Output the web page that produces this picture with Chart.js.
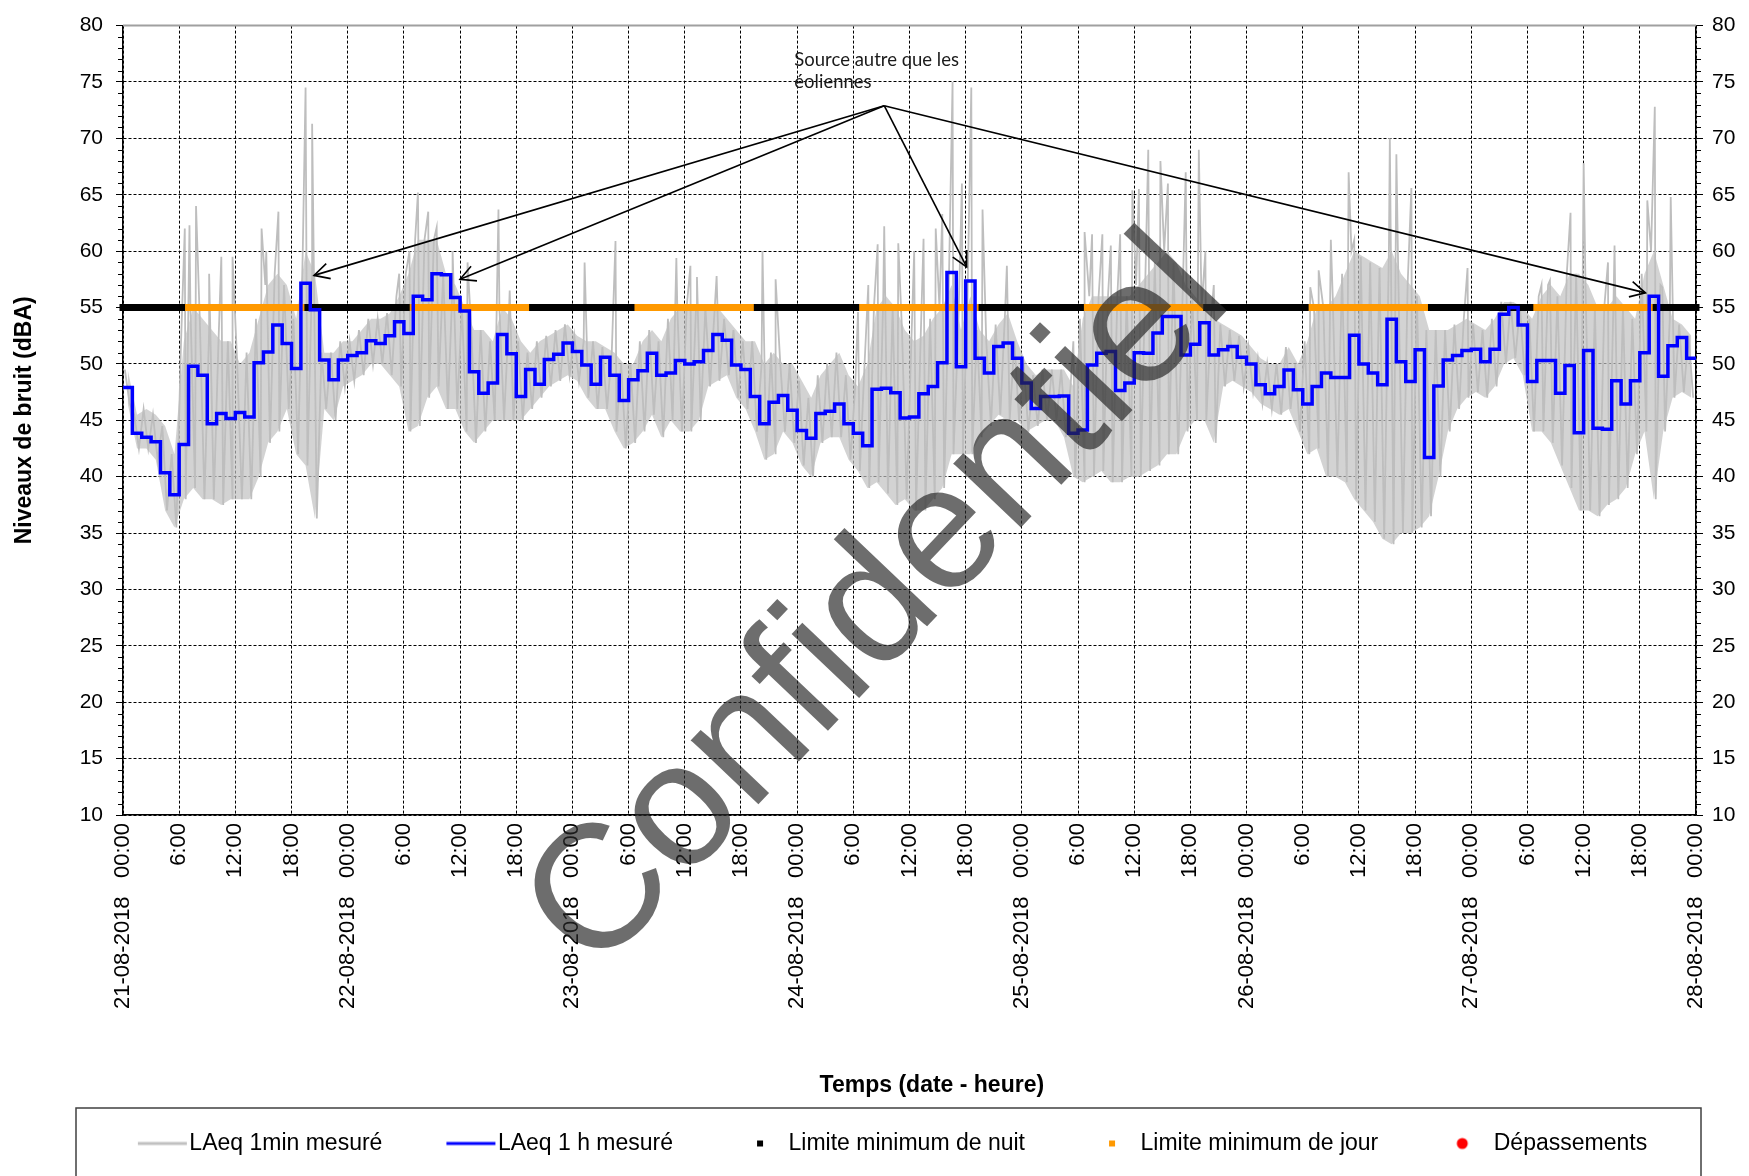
<!DOCTYPE html>
<html lang="fr">
<head>
<meta charset="UTF-8" />
<title>Niveaux de bruit</title>
<style>
  html, body { margin: 0; padding: 0; background: #fff; }
  #graphique { display: block; }
</style>
</head>
<body>
<canvas id="graphique" width="1749" height="1176"></canvas>
<script src="https://cdn.jsdelivr.net/npm/chart.js"></script>
<script>
// jours (un tick 00:00 par jour)
const jours = ['21-08-2018', '22-08-2018', '23-08-2018', '24-08-2018',
               '25-08-2018', '26-08-2018', '27-08-2018', '28-08-2018'];

// LAeq 1 h mesuré, une valeur par heure (h0 = 21-08 00:00)
const laeqHoraire = [
  47.9, 43.85, 43.5, 43.1, 40.35, 38.4, 42.85, 49.8, 49.0, 44.7, 45.6, 45.15, 45.7, 45.3, 50.1, 51.05, 53.45, 51.8, 49.6, 57.15, 54.8, 50.35, 48.6, 50.35,
  50.75, 51.0, 52.05, 51.8, 52.5, 53.75, 52.7, 56.0, 55.7, 58.0, 57.9, 55.9, 54.7, 49.3, 47.4, 48.3, 52.6, 50.9, 47.1, 49.5, 48.2, 50.4, 50.85, 51.85,
  51.1, 49.9, 48.2, 50.6, 49.0, 46.75, 48.6, 49.4, 50.95, 49.0, 49.2, 50.3, 50.0, 50.2, 51.2, 52.6, 52.1, 49.9, 49.5, 47.1, 44.7, 46.6, 47.2, 45.9,
  44.1, 43.4, 45.6, 45.8, 46.45, 44.7, 43.85, 42.75, 47.75, 47.85, 47.45, 45.2, 45.3, 47.35, 48.0, 50.1, 58.1, 49.75, 57.35, 50.5, 49.2, 51.55, 51.85, 50.5,
  48.3, 46.05, 47.1, 47.1, 47.15, 43.85, 44.15, 49.9, 50.95, 51.1, 47.65, 48.3, 51.0, 50.95, 52.75, 54.2, 54.2, 50.8, 51.75, 53.65, 50.8, 51.25, 51.55, 50.6,
  50.0, 48.15, 47.35, 48.0, 49.45, 47.7, 46.45, 48.0, 49.2, 48.8, 48.8, 52.55, 50.0, 49.2, 48.15, 53.95, 50.2, 48.45, 51.25, 41.7, 48.05, 50.35, 50.75, 51.2,
  51.3, 50.2, 51.3, 54.4, 55.0, 53.45, 48.45, 50.3, 50.3, 47.4, 49.85, 43.9, 51.2, 44.3, 44.2, 48.5, 46.45, 48.5, 51.0, 56.0, 48.9, 51.6, 52.35, 50.5
];

// LAeq 1min : enveloppe haute et basse lue heure par heure
const grisMax = [
  49.5, 45.5, 46, 45.5, 44.5, 42, 52, 55, 54, 53, 52, 52, 50, 51, 54, 57, 58, 57, 54, 60, 58, 51, 51, 52,
  52, 53, 54, 54, 54.5, 56, 58, 61, 61, 61, 58, 57, 55, 53, 53, 52, 55, 54, 52, 51, 52, 52.5, 53, 53.5,
  52.5, 52, 52, 51.5, 51, 50, 50, 52, 53, 52, 54, 55, 55, 55, 55, 55, 54, 53, 52, 52, 50, 51, 50, 50,
  48.5, 47, 49, 50, 51, 49, 48, 50, 55, 56, 55, 53, 52, 52.5, 54, 55, 57, 53, 56, 53, 52, 53.5, 54.5, 52,
  50, 49, 49.5, 49.5, 49.5, 48, 54, 56, 56, 56, 56, 56, 57, 58, 59, 60, 59, 57, 56, 55, 54, 53.5, 53, 52.5,
  51.5, 50.5, 50, 50, 51.5, 50, 52, 55, 55, 56, 58, 60, 59.5, 59, 58.5, 60, 58, 57, 56, 53, 53, 53, 53.5, 54,
  53.5, 53, 54, 55.5, 55.5, 55, 54, 56, 57, 56, 58, 58, 57, 55, 55, 56, 55, 54, 58, 60, 57, 54, 53.5, 52.5
];
const grisMin = [
  46.5, 42.5, 42.5, 41.5, 37, 35.5, 38, 39, 38, 38, 37.5, 38, 38, 38, 40, 43, 44, 46, 42, 41, 36.3, 46, 45, 48,
  48.5, 49, 50, 50, 49, 48, 44, 44.5, 47, 48, 46, 46, 44, 43, 44, 45, 45, 45, 45, 46, 47, 48, 48.5, 49,
  48.5, 47, 46, 46, 44, 42.5, 43, 44, 45.5, 43.5, 45, 44, 44, 45, 48, 48.5, 49, 47, 46, 44, 41.5, 42, 44, 43,
  41, 40, 43, 43.5, 43.5, 41.5, 40.5, 39, 39.5, 38.5, 37.5, 38, 37, 37, 38, 39, 42, 42, 42, 43.5, 44.5, 45.5, 45, 45,
  44, 44.5, 45, 45, 43.5, 40, 39.5, 40, 40.5, 39.5, 39.5, 40, 40, 40.5, 41, 42, 42, 44, 45, 45, 43, 48, 48.5, 48,
  47.5, 46.5, 46, 45.5, 46, 44, 42, 42.5, 40, 40, 39.5, 38, 37, 36, 34.5, 34, 35, 35, 35.5, 36.5, 40, 44, 46, 47,
  47.5, 47, 48, 50, 50.5, 49, 44, 44, 43, 41, 39, 37, 37, 36.5, 37.5, 38, 39, 42, 44, 38, 44, 47, 47.5, 47
];
// pics isolés du LAeq 1min : [heure, dBA]
const pics = [
  [6.6, 62], [7.1, 62.3], [7.8, 64], [9.2, 58], [10.5, 59.5], [11.7, 59.5], [14.8, 62], [15.3, 60], [16.6, 63.5],
  [19.5, 74.5], [20.2, 71.3], [29.5, 58], [30.6, 60], [31.5, 65.2], [32.6, 63.5], [33.5, 62.1], [35.2, 60], [36.8, 59],
  [40.1, 63.7], [41.3, 56.5], [49.3, 59], [52.6, 60.9], [59.1, 59.4], [60.6, 58.7], [61.3, 57.7], [63.4, 57.8],
  [68.3, 60], [69.7, 57.5], [78.5, 54.6], [79.6, 57], [80.6, 60.6], [81.3, 62.2], [82.8, 60.7], [84.5, 60],
  [85.5, 61.1], [86.8, 62], [87.5, 63.3], [88.6, 75], [89.6, 66], [90.6, 74.5], [91.8, 63.7], [94.4, 58.7],
  [101.5, 52], [102.7, 61.7], [103.5, 61.5], [104.6, 61.5], [105.5, 60.5], [106.5, 61.5], [107.8, 65.4], [108.5, 65.5],
  [109.5, 69], [110.8, 68], [111.6, 66], [113.5, 67], [114.9, 69], [115.6, 60], [116.5, 57], [126.8, 56.8],
  [127.7, 58.3], [129.0, 61], [130.9, 67], [131.5, 61], [135.3, 70], [136.0, 68.6], [137.6, 65.6], [143.6, 58.5],
  [151.5, 57], [152.4, 57.4], [154.6, 63.4], [156.0, 67.8], [158.6, 59], [159.3, 60.5], [162.8, 64.5], [163.6, 72.8],
  [164.4, 56.8], [165.3, 64.8]
];

// limites (dBA) et plages jour / nuit (heures)
const limiteNuit = 55;
const limiteJour = 55;
const debutJour = 7;
const finJour = 19;

// annotation
const sourceTexte = ['Source autre que les', 'éoliennes'];
const sourcePos = [71.7, 77.8];
const flecheOrigine = [81.3, 72.9];
const flecheCibles = [[20.4, 57.85], [36.0, 57.5], [90.1, 58.6], [162.6, 56.3]];

Chart.defaults.font.family = "'Liberation Sans', Arial, sans-serif";
Chart.defaults.color = '#000';

// --- séries pour Chart.js ---
const gris = [];
for (let h = 0; h < laeqHoraire.length; h++) {
  const pts = [{ x: h + 0.2, y: grisMax[h] }, { x: h + 0.7, y: grisMin[h] }];
  pics.filter(p => Math.floor(p[0]) === h).forEach(p => pts.push({ x: p[0], y: p[1] }));
  pts.sort((a, b) => a.x - b.x);
  gris.push(...pts);
}
const bandeHaut = grisMax.map((v, h) => ({ x: h + 0.5, y: v }));
const bandeBas = grisMin.map((v, h) => ({ x: h + 0.5, y: v }));

const bleu = laeqHoraire.map((v, h) => ({ x: h, y: v }));
bleu.push({ x: laeqHoraire.length, y: laeqHoraire[laeqHoraire.length - 1] });

const nuit = [], jour = [];
const finH = laeqHoraire.length;
let t = 0;
while (t < finH) {
  const hDay = t % 24;
  let next;
  if (hDay < debutJour) next = t - hDay + debutJour;
  else if (hDay < finJour) next = t - hDay + finJour;
  else next = t - hDay + 24 + debutJour;
  next = Math.min(next, finH);
  const estJour = hDay >= debutJour && hDay < finJour;
  const cible = estJour ? jour : nuit;
  const val = estJour ? limiteJour : limiteNuit;
  cible.push({ x: t, y: val }, { x: next, y: val }, { x: next, y: null });
  t = next;
}

function symbole(type, couleur) {
  const c = document.createElement('canvas');
  c.width = 130; c.height = 22;
  const g = c.getContext('2d');
  if (type === 'ligne') {
    g.strokeStyle = couleur; g.lineWidth = 3;
    g.beginPath(); g.moveTo(73, 11); g.lineTo(122, 11); g.stroke();
  } else if (type === 'carre') {
    g.fillStyle = couleur; g.fillRect(93, 8, 6, 6);
  } else {
    g.fillStyle = couleur; g.beginPath(); g.arc(93, 11, 5.5, 0, Math.PI * 2); g.fill();
  }
  return c;
}
const symboles = [
  symbole('ligne', '#C0C0C0'), symbole('ligne', '#0000FF'),
  symbole('carre', '#000000'), symbole('carre', '#FF9900'), symbole('rond', '#FF0000')
];

const decor = {
  id: 'decor',
  afterDraw(chart) {
    const { ctx, chartArea: a, scales } = chart;
    const x = scales.x, y = scales.y;
    ctx.save();
    // bord supérieur gris
    ctx.strokeStyle = '#a0a0a0'; ctx.lineWidth = 2;
    ctx.beginPath(); ctx.moveTo(a.left, a.top); ctx.lineTo(a.right, a.top); ctx.stroke();
    // petites graduations
    ctx.strokeStyle = '#000'; ctx.lineWidth = 1;
    for (let v = 10; v <= 80; v++) {
      if (v % 5 === 0) continue;
      const py = Math.round(y.getPixelForValue(v)) + 0.5;
      ctx.beginPath();
      ctx.moveTo(a.left - 5, py); ctx.lineTo(a.left, py);
      ctx.moveTo(a.right, py); ctx.lineTo(a.right + 5, py);
      ctx.stroke();
    }
    // cadre de la légende
    const lg = chart.legend;
    ctx.strokeStyle = '#404040'; ctx.lineWidth = 1.5;
    ctx.strokeRect(a.left - 47, lg.top - 16, a.right - a.left + 52, 120);

    // annotation
    ctx.fillStyle = '#1a1a1a';
    ctx.font = "18.5px Lato, 'Liberation Sans', sans-serif";
    ctx.textBaseline = 'top';
    const tx = x.getPixelForValue(sourcePos[0]), ty = y.getPixelForValue(sourcePos[1]);
    sourceTexte.forEach((l, i) => ctx.fillText(l, tx, ty + i * 22));
    const ox = x.getPixelForValue(flecheOrigine[0]), oy = y.getPixelForValue(flecheOrigine[1]);
    ctx.strokeStyle = '#000'; ctx.lineWidth = 1.6;
    flecheCibles.forEach(([h, v]) => {
      const cx = x.getPixelForValue(h), cy = y.getPixelForValue(v);
      ctx.beginPath(); ctx.moveTo(ox, oy); ctx.lineTo(cx, cy); ctx.stroke();
      const ang = Math.atan2(oy - cy, ox - cx);
      ctx.beginPath();
      ctx.moveTo(cx + 17 * Math.cos(ang + 0.48), cy + 17 * Math.sin(ang + 0.48));
      ctx.lineTo(cx, cy);
      ctx.lineTo(cx + 17 * Math.cos(ang - 0.48), cy + 17 * Math.sin(ang - 0.48));
      ctx.stroke();
    });

    // filigrane
    ctx.translate(chart.width * 0.503, chart.height * 0.515);
    ctx.rotate(-46.5 * Math.PI / 180);
    ctx.font = "176px 'Liberation Sans', Arial, sans-serif";
    ctx.fillStyle = 'rgba(40,40,40,0.68)';
    ctx.textAlign = 'center'; ctx.textBaseline = 'middle';
    ctx.fillText('Confidentiel', 0, 0);
    ctx.restore();
  }
};

const axeY = (position) => ({
  type: 'linear', position, min: 10, max: 80,
  ticks: { stepSize: 5, font: { size: 21 }, padding: position === 'left' ? 13 : 9, color: '#000' },
  grid: {
    drawOnChartArea: position === 'left',
    color: c => (c.tick && c.tick.value === 80) ? '#a0a0a0' : '#000',
    lineWidth: 1, drawTicks: true, tickLength: 7, tickColor: '#000', tickWidth: 1
  },
  border: { display: true, color: '#000', width: 1.5, dash: [3, 2] },
  title: position === 'left'
    ? { display: true, text: 'Niveaux de bruit (dBA)', font: { size: 23, weight: 'bold' }, padding: { top: 31, bottom: 3 }, color: '#000' }
    : { display: false },
  afterFit: s => { s.width = position === 'left' ? 143 : 53; }
});

new Chart(document.getElementById('graphique'), {
  type: 'line',
  data: {
    datasets: [
      { label: 'LAeq 1min mesuré', data: gris, borderColor: '#BEBEBE', borderWidth: 1.8, pointRadius: 0, order: 3 },
      { label: 'LAeq 1 h mesuré', data: bleu, borderColor: '#0000FF', borderWidth: 3.5, pointRadius: 0, stepped: true, order: 0 },
      { label: 'Limite minimum de nuit', data: nuit, borderColor: '#000000', borderWidth: 7, borderCapStyle: 'square', pointRadius: 0, spanGaps: false, clip: 8, order: 2 },
      { label: 'Limite minimum de jour', data: jour, borderColor: '#FF9900', borderWidth: 7, borderCapStyle: 'square', pointRadius: 0, spanGaps: false, clip: 8, order: 1 },
      { label: 'Dépassements', data: [], showLine: false, pointRadius: 5, backgroundColor: '#FF0000', borderColor: '#FF0000', order: -1 },
      { label: 'enveloppe haute', data: bandeHaut, borderWidth: 0, pointRadius: 0, order: 5 },
      { label: 'enveloppe basse', data: bandeBas, borderWidth: 0, pointRadius: 0, order: 4,
        fill: { target: 5 }, backgroundColor: 'rgba(192,192,192,0.7)' }
    ]
  },
  options: {
    responsive: false,
    animation: false,
    parsing: false,
    normalized: true,
    layout: { padding: { left: -20, right: 0, top: 21, bottom: 11 } },
    plugins: {
      tooltip: { enabled: false },
      filler: { propagate: false },
      legend: {
        position: 'bottom',
        labels: {
          usePointStyle: true,
          pointStyleWidth: 96,
          boxHeight: 23,
          padding: 8,
          font: { size: 23 },
          color: '#000',
          generateLabels: chart => chart.data.datasets.slice(0, 5).map((ds, i) => ({
            text: ds.label, pointStyle: symboles[i], datasetIndex: i, hidden: false,
            fillStyle: 'rgba(0,0,0,0)', strokeStyle: 'rgba(0,0,0,0)', lineWidth: 0, fontColor: '#000'
          }))
        }
      }
    },
    scales: {
      x: {
        type: 'linear', position: 'bottom', min: 0, max: 168,
        ticks: {
          stepSize: 6, maxTicksLimit: 30, autoSkip: false, minRotation: 90, maxRotation: 90,
          font: { size: 22 }, padding: 8, color: '#000',
          callback: v => {
            const h = Math.round(v);
            return h % 24 === 0 ? jours[h / 24] + '   00:00' : (h % 24) + ':00';
          }
        },
        grid: { color: '#000', lineWidth: 1, drawTicks: false },
        border: { display: true, color: '#000', width: 1.5, dash: [3, 2] },
        title: { display: true, text: '       Temps (date - heure)', font: { size: 23, weight: 'bold' }, padding: { top: 0, bottom: 25 }, color: '#000' },
        afterFit: s => { s.height = 309; }
      },
      y: axeY('left'),
      y2: axeY('right')
    }
  },
  plugins: [decor]
});
</script>
</body>
</html>
